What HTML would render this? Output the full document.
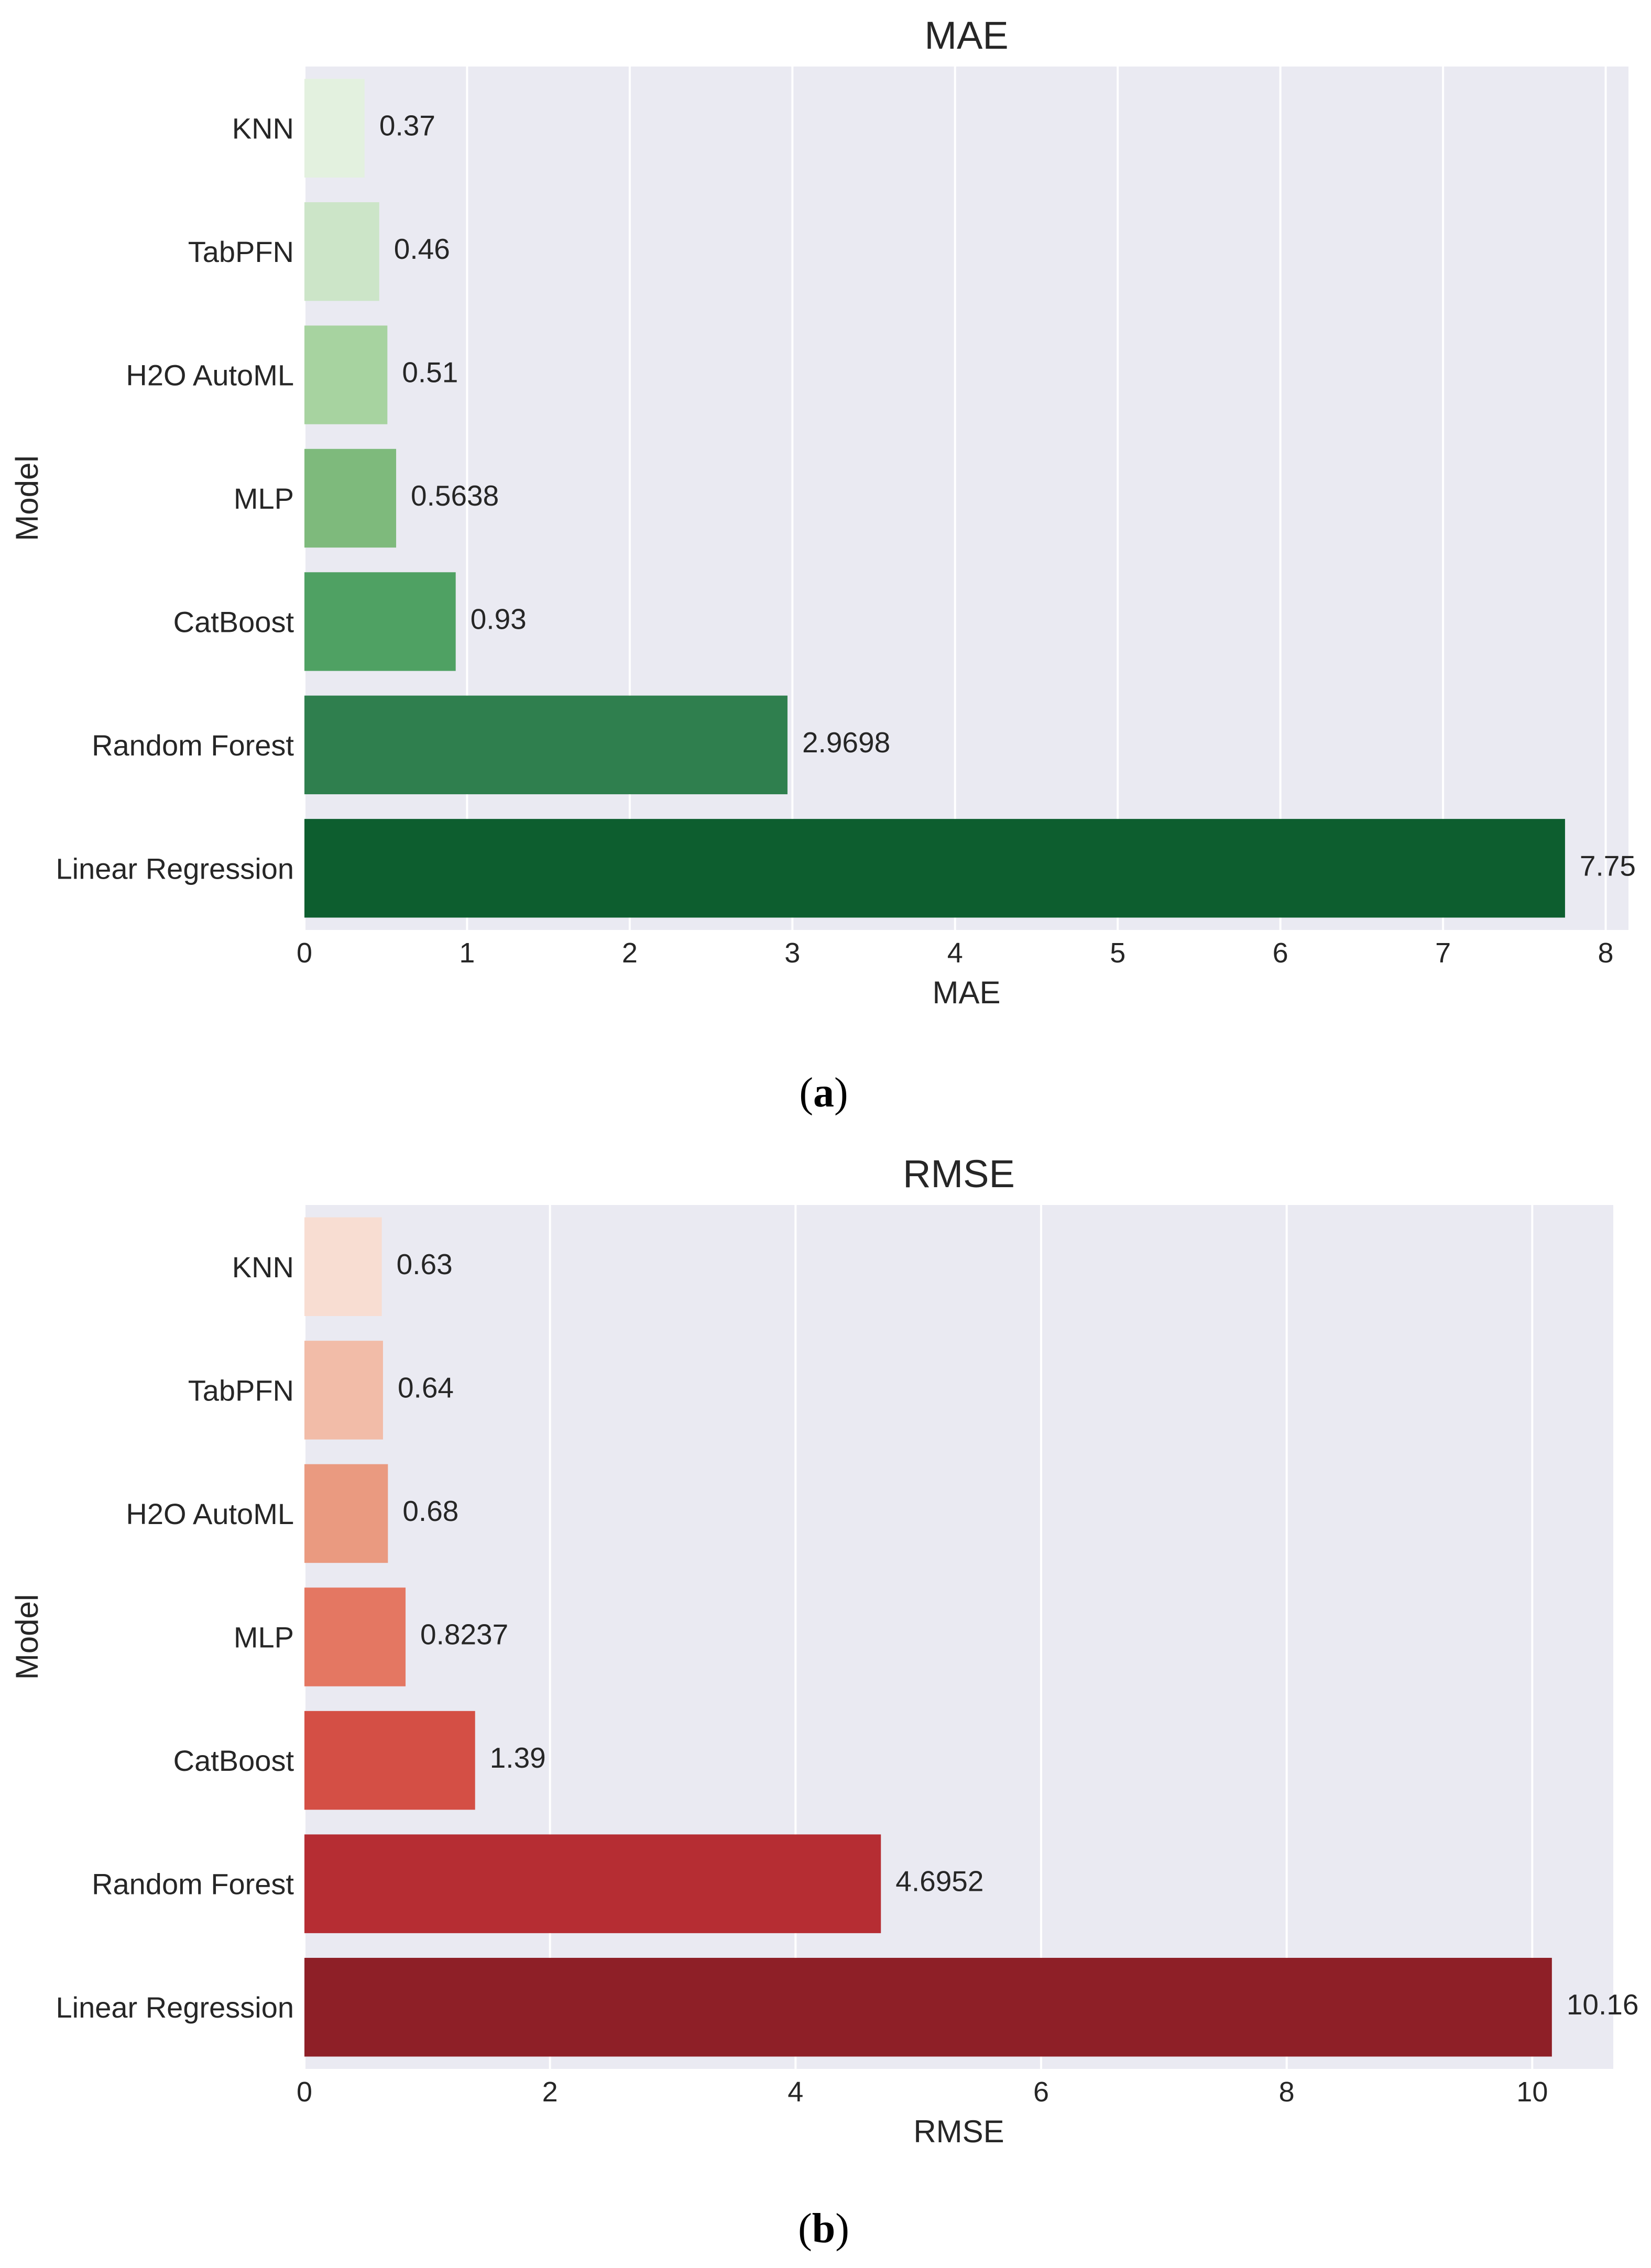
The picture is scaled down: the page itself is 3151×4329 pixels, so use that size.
<!DOCTYPE html>
<html><head><meta charset="utf-8"><style>
html,body{margin:0;padding:0;background:#fff;}
svg{display:block;font-family:"Liberation Sans",sans-serif;}
</style></head><body>
<svg id="chart" width="3151" height="4329" viewBox="0 0 3151 4329" xmlns="http://www.w3.org/2000/svg">
<rect width="3151" height="4329" fill="#fff"/>
</svg>
<script>
const categories = ["KNN","TabPFN","H2O AutoML","MLP","CatBoost","Random Forest","Linear Regression"];
const maeValues = [0.37,0.46,0.51,0.5638,0.93,2.9698,7.75];
const maeLabels = ["0.37","0.46","0.51","0.5638","0.93","2.9698","7.75"];
const maeTicks = [0,1,2,3,4,5,6,7,8];
const rmseValues = [0.63,0.64,0.68,0.8237,1.39,4.6952,10.16];
const rmseLabels = ["0.63","0.64","0.68","0.8237","1.39","4.6952","10.16"];
const rmseTicks = [0,2,4,6,8,10];
const greens = ["#e3f1df","#cce5c8","#a7d3a0","#7eba7c","#4fa163","#2f7f4e","#0d5e2f"];
const reds = ["#f8ddd2","#f2bca8","#ea9a80","#e47762","#d44f45","#b62d33","#8e1f27"];

const svg = document.getElementById('chart');
const NS = "http://www.w3.org/2000/svg";
function mk(tag, attrs, parent){
  const e = document.createElementNS(NS, tag);
  for (const k in attrs) e.setAttribute(k, attrs[k]);
  (parent||svg).appendChild(e);
  return e;
}

function panel(cfg){
  const g = mk('g', {});
  
  
  const L = cfg.left, R = cfg.right, T = cfg.top, B = cfg.bottom;
  const x = v => L + (v - 0) / (cfg.xmax) * (R - L);
  const band = (B - T) / categories.length;
  const bg = mk('rect', {x:L, y:T, width:R-L, height:B-T, fill:'#eaeaf2'}, g);
  
  
  cfg.ticks.forEach(t => {
    const gl = mk('line', {x1:x(t), x2:x(t), y1:T, y2:B, stroke:'#fff', 'stroke-width':4}, g);
    
    
    const tl = mk('text', {x:x(t), y:B+62, 'font-size':54, fill:'#262626', 'text-anchor':'middle'}, g);
    tl.textContent = String(t);
    
    
  });
  categories.forEach((c, i) => {
    const yc = T + band * (i + 0.5);
    const bh = band * 0.8;
    const bar = mk('rect', {x:x(0), y:yc - bh/2, width:x(cfg.values[i]) - x(0), height:bh, fill:cfg.colors[i]}, g);
    
    
    const vl = mk('text', {x:x(cfg.values[i]) + 28, y:yc + 14, 'font-size':55, fill:'#262626'}, g);
    vl.textContent = cfg.labels[i];
    
    
    const cl = mk('text', {x:L - 20, y:yc + 20, 'font-size':56, fill:'#262626', 'text-anchor':'end'}, g);
    cl.textContent = c;
    
    
  });
  const title = mk('text', {x:(L+R)/2, y:T-34, 'font-size':74, fill:'#262626', 'text-anchor':'middle'}, g);
  title.textContent = cfg.title;
  
  
  const xl = mk('text', {x:(L+R)/2, y:B+140, 'font-size':60, fill:'#262626', 'text-anchor':'middle'}, g);
  xl.textContent = cfg.title;
  
  
  const ym = (T+B)/2;
  const yl = mk('text', {x:72, y:ym, 'font-size':60, fill:'#262626', 'text-anchor':'middle', transform:'rotate(-90 72 ' + ym + ')'}, g);
  yl.textContent = 'Model';
  
  
  const cap = mk('text', {x:1572, y:cfg.capY, 'font-size':80, fill:'#000', 'text-anchor':'middle', 'font-family':'"Liberation Serif",serif'}, g);
  cap.innerHTML = '(<tspan font-weight="bold">' + cfg.cap + '</tspan>)';
  
  
}

panel({name:'mae', title:'MAE', left:581, right:3108, top:127, bottom:1775, xmax:8.14,
  values:maeValues, labels:maeLabels, ticks:maeTicks, colors:greens, cap:'a', capY:2112});
panel({name:'rmse', title:'RMSE', left:581, right:3079, top:2300, bottom:3949, xmax:10.66,
  values:rmseValues, labels:rmseLabels, ticks:rmseTicks, colors:reds, cap:'b', capY:4280});
</script>
</body></html>
